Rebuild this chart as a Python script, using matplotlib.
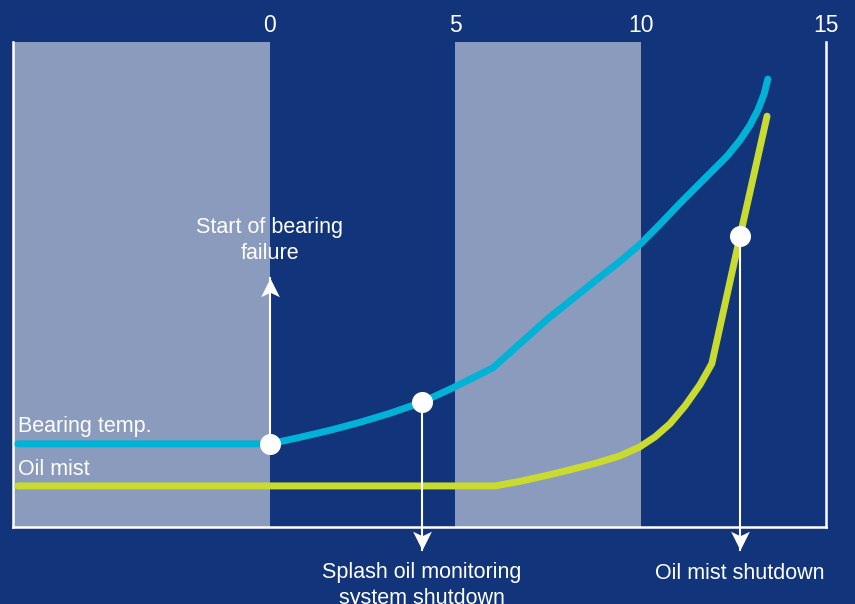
import matplotlib
matplotlib.use("Agg")
import matplotlib.pyplot as plt
from matplotlib.path import Path

plt.rcParams['font.family'] = ['Liberation Sans', 'DejaVu Sans']

# ---- data ----
tick_values = [0, 5, 10, 15]
tick_labels = ["0", "5", "10", "15"]

band_ranges = [(-6.93, 0.0), (5.0, 10.0)]

bearing_x = [-6.80, 0.00, 0.81, 1.62, 2.43, 3.24, 4.10, 4.94, 6.02, 7.47, 8.82, 9.44, 9.98,
             10.52, 11.06, 11.68, 12.33, 12.68, 12.95, 13.16, 13.33, 13.43]
bearing_y = [17.15, 17.15, 18.49, 19.94, 21.59, 23.45, 25.72, 28.72, 32.85, 42.77, 51.03, 54.75, 58.26,
             62.40, 66.74, 71.49, 76.45, 79.75, 82.85, 85.95, 89.26, 92.36]

oilmist_x = [-6.80, 6.07, 6.74, 7.47, 8.09, 8.82, 9.44, 9.98, 10.39, 10.79, 11.20, 11.60, 11.92,
             12.68, 13.41]
oilmist_y = [8.47, 8.47, 9.40, 10.64, 11.78, 13.22, 14.67, 16.53, 18.60, 21.28, 25.00, 29.34, 33.68,
             59.92, 84.71]

event_x = [0.00, 4.10, 12.68]
event_y = [17.15, 25.72, 59.92]
event_labels = ["Start of bearing\nfailure", "Splash oil monitoring\nsystem shutdown", "Oil mist shutdown"]
event_arrow_to = [51.4, -4.75, -4.75]
event_text_y = [59.0, -7.3, -7.4]

series_labels = ["Bearing temp.", "Oil mist"]
series_label_y = [19.6, 10.7]

# ---- style ----
BG = "#12347A"
BAND = "#8A9BBE"
BLUE = "#00B2D6"
GREEN = "#C9DB2F"
WHITE = "#FFFFFF"

head_up = Path([(0, 0), (-0.5, -1.0), (0, -0.76), (0.5, -1.0), (0, 0)],
               [Path.MOVETO, Path.LINETO, Path.LINETO, Path.LINETO, Path.CLOSEPOLY])
head_down = Path([(0, 0), (-0.5, 1.0), (0, 0.76), (0.5, 1.0), (0, 0)],
                 [Path.MOVETO, Path.LINETO, Path.LINETO, Path.LINETO, Path.CLOSEPOLY])

fig = plt.figure(figsize=(8.55, 6.04), dpi=100, facecolor=BG)
ax = fig.add_axes([13/855, 77/604, (826-13)/855, (527-42)/604])
ax.set_facecolor(BG)
ax.set_xlim(-6.93, 15)
ax.set_ylim(0, 100)

for (a, b) in band_ranges:
    ax.axvspan(a, b, color=BAND, lw=0, zorder=0)

ax.plot(bearing_x, bearing_y, color=BLUE, lw=5, solid_capstyle='round', solid_joinstyle='round', zorder=3)
ax.plot(oilmist_x, oilmist_y, color=GREEN, lw=5, solid_capstyle='round', solid_joinstyle='round', zorder=3)

for xv, yv, lab, ty, txy in zip(event_x, event_y, event_labels, event_arrow_to, event_text_y):
    ax.plot([xv, xv], [yv, ty], color=WHITE, lw=1.5, clip_on=False, zorder=4)
    up = ty > yv
    ax.plot([xv], [ty], marker=head_up if up else head_down, markersize=27,
            color=WHITE, markeredgewidth=0, linestyle='none', clip_on=False, zorder=4)
    if up:
        ax.text(xv, txy, lab, ha='center', va='center', color=WHITE, fontsize=15.5,
                linespacing=1.3, zorder=5)
    else:
        ax.text(xv, txy, lab, ha='center', va='top', color=WHITE, fontsize=15.5,
                linespacing=1.3, clip_on=False, zorder=5)

ax.scatter(event_x, event_y, s=21**2 * 0.52, color=WHITE, zorder=6, linewidths=0)

for lab, ly in zip(series_labels, series_label_y):
    ax.text(-6.80, ly, lab, ha='left', va='baseline', color=WHITE, fontsize=15.5, zorder=5)

ax.xaxis.tick_top()
ax.set_xticks(tick_values)
ax.set_xticklabels(tick_labels)
ax.tick_params(axis='x', length=0, pad=3.5, labelsize=16.5, labelcolor=WHITE)
ax.set_yticks([])

for s in ['left', 'bottom', 'right']:
    ax.spines[s].set_color(WHITE)
    ax.spines[s].set_linewidth(1.8)
ax.spines['top'].set_visible(False)

fig.savefig("out.png", dpi=100, facecolor=BG)
